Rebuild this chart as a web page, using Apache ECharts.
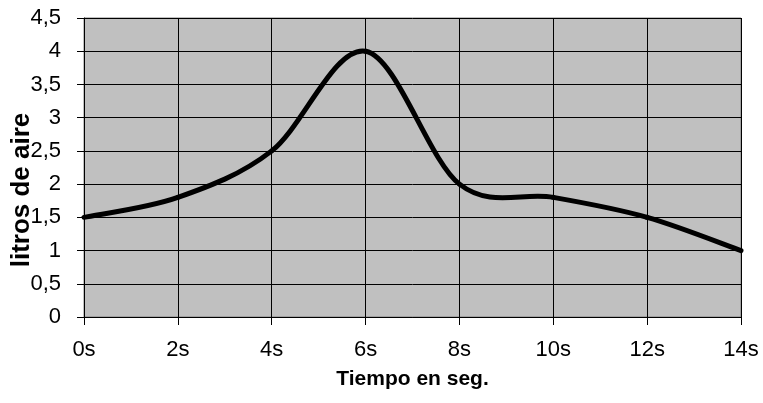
<!DOCTYPE html>
<html>
<head>
<meta charset="utf-8">
<script src="https://cdn.jsdelivr.net/npm/echarts@6/dist/echarts.min.js"></script>
<style>
  html, body { margin: 0; padding: 0; background: #fff; }
  #chart { width: 763px; height: 403px; }
</style>
</head>
<body>
<div id="chart"></div>
<script>
// tiempo (s) y litros de aire
const segundos = [0, 2, 4, 6, 8, 10, 12, 14];
const litros = [1.5, 1.8, 2.5, 4, 2, 1.8, 1.5, 1];

const chart = echarts.init(document.getElementById('chart'));

// curva suavizada tipo Excel (Catmull-Rom), un tramo por punto
function renderTramo(params, api) {
  const i = params.dataIndex;
  const n = segundos.length;
  if (i >= n - 1) return null;
  const p = k => api.coord([segundos[Math.max(0, Math.min(n - 1, k))], litros[Math.max(0, Math.min(n - 1, k))]]);
  const p0 = p(i - 1), p1 = p(i), p2 = p(i + 1), p3 = p(i + 2);
  return {
    type: 'bezierCurve',
    shape: {
      x1: p1[0], y1: p1[1],
      x2: p2[0], y2: p2[1],
      cpx1: p1[0] + (p2[0] - p0[0]) / 6,
      cpy1: p1[1] + (p2[1] - p0[1]) / 6,
      cpx2: p2[0] - (p3[0] - p1[0]) / 6,
      cpy2: p2[1] - (p3[1] - p1[1]) / 6
    },
    style: { fill: null, stroke: '#000', lineWidth: 5, lineCap: 'round' }
  };
}

const option = {
  animation: false,
  textStyle: { fontFamily: 'Liberation Sans, Arial, sans-serif' },
  grid: {
    left: 84, right: 22, top: 18, bottom: 86,
    show: true,
    backgroundColor: '#c0c0c0',
    borderColor: '#808080',
    borderWidth: 1
  },
  xAxis: {
    type: 'value',
    min: 0, max: 14, interval: 2,
    name: 'Tiempo en seg.',
    nameLocation: 'middle',
    nameGap: 52,
    nameTextStyle: { fontSize: 21, fontWeight: 'bold', color: '#000' },
    axisLine: { show: true, lineStyle: { color: '#000', width: 1 } },
    axisTick: { show: true, length: 8, lineStyle: { color: '#000' } },
    axisLabel: { fontSize: 22, color: '#000', margin: 22, formatter: v => v + 's' },
    splitLine: { show: true, lineStyle: { color: '#000', width: 1 } }
  },
  yAxis: {
    type: 'value',
    min: 0, max: 4.5, interval: 0.5,
    axisLine: { show: true, lineStyle: { color: '#000', width: 1 } },
    axisTick: { show: true, length: 7, lineStyle: { color: '#000' } },
    axisLabel: {
      fontSize: 22, color: '#000', margin: 23,
      formatter: v => String(v).replace('.', ',')
    },
    splitLine: { show: true, lineStyle: { color: '#000', width: 1 } }
  },
  graphic: [{
    type: 'text',
    x: 22, y: 190,
    rotation: Math.PI / 2,
    z: 100,
    style: {
      text: 'litros de aire',
      font: 'bold 26px Liberation Sans, Arial, sans-serif',
      fill: '#000',
      align: 'center',
      verticalAlign: 'middle'
    }
  }],
  series: [{
    type: 'custom',
    coordinateSystem: 'cartesian2d',
    data: segundos.map((s, i) => [s, litros[i]]),
    encode: { x: 0, y: 1 },
    renderItem: renderTramo
  }]
};

chart.setOption(option);
</script>
</body>
</html>
